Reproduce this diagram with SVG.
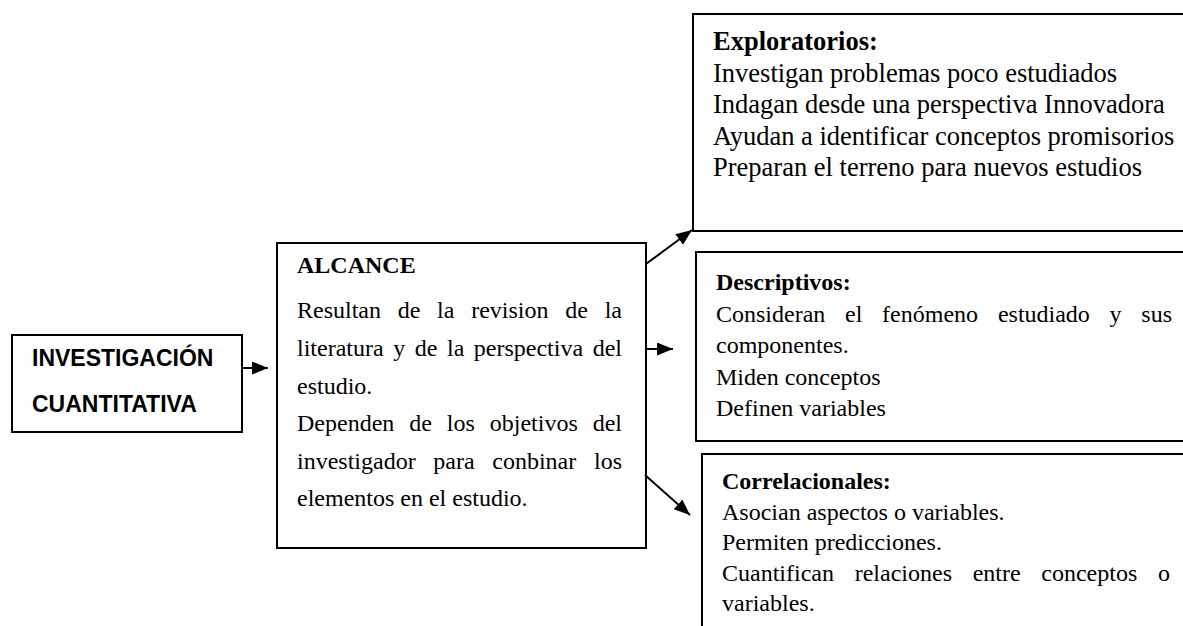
<svg xmlns="http://www.w3.org/2000/svg" width="1183" height="626" viewBox="0 0 1183 626">
<style>
.box{fill:#fff;stroke:#000;stroke-width:2}
.t{font-family:"Liberation Serif","Times New Roman",serif;font-size:24px;fill:#000}
.e{font-size:26.5px}
.b{font-weight:bold}
.s{font-family:"Liberation Sans",Arial,sans-serif;font-size:23px;font-weight:bold;fill:#000}
.c{stroke:#000;stroke-width:2;fill:none}
</style>
<defs>
<marker id="ah" markerUnits="userSpaceOnUse" markerWidth="18" markerHeight="16" refX="16" refY="6.5" orient="auto">
<path d="M0,0 L16,6.5 L0,13 z" fill="#000"/>
</marker>
</defs>
<rect width="1183" height="626" fill="#fff"/>
<g id="investigacion">
<rect class="box" x="12" y="335" width="230" height="97"/>
<text class="s" x="32" y="366">INVESTIGACIÓN</text>
<text class="s" x="32" y="412">CUANTITATIVA</text>
</g>
<g id="alcance">
<rect class="box" x="277" y="243" width="369" height="305"/>
<text class="t b" x="297" y="273">ALCANCE</text>
<text class="t" y="318"><tspan x="297">Resultan</tspan><tspan x="397.7">de</tspan><tspan x="437.1">la</tspan><tspan x="471.2">revision</tspan><tspan x="565.3">de</tspan><tspan x="604.7">la</tspan></text>
<text class="t" y="356"><tspan x="297">literatura</tspan><tspan x="393.2">y</tspan><tspan x="414.7">de</tspan><tspan x="447">la</tspan><tspan x="473.8">perspectiva</tspan><tspan x="592.7">del</tspan></text>
<text class="t" x="297" y="394">estudio.</text>
<text class="t" y="431"><tspan x="297">Dependen</tspan><tspan x="409.2">de</tspan><tspan x="446.8">los</tspan><tspan x="489.8">objetivos</tspan><tspan x="592.7">del</tspan></text>
<text class="t" y="469"><tspan x="297">investigador</tspan><tspan x="433.3">para</tspan><tspan x="492.3">conbinar</tspan><tspan x="594">los</tspan></text>
<text class="t" x="297" y="506">elementos en el estudio.</text>
</g>
<g id="exploratorios">
<rect class="box" x="693" y="14" width="500" height="217"/>
<text class="t e b" x="713" y="50">Exploratorios:</text>
<text class="t e" x="713" y="81.5">Investigan problemas poco estudiados</text>
<text class="t e" x="713" y="113">Indagan desde una perspectiva Innovadora</text>
<text class="t e" x="713" y="144.5">Ayudan a identificar conceptos promisorios</text>
<text class="t e" x="713" y="176">Preparan el terreno para nuevos estudios</text>
</g>
<g id="descriptivos">
<rect class="box" x="696" y="252" width="500" height="189"/>
<text class="t b" x="716" y="290">Descriptivos:</text>
<text class="t" y="321.5"><tspan x="716">Consideran</tspan><tspan x="845.1">el</tspan><tspan x="882.1">fenómeno</tspan><tspan x="997.9">estudiado</tspan><tspan x="1109.6">y</tspan><tspan x="1141.3">sus</tspan></text>
<text class="t" x="716" y="353">componentes.</text>
<text class="t" x="716" y="384.5">Miden conceptos</text>
<text class="t" x="716" y="416">Definen variables</text>
</g>
<g id="correlacionales">
<rect class="box" x="702" y="454" width="500" height="200"/>
<text class="t b" x="722" y="489">Correlacionales:</text>
<text class="t" x="722" y="520">Asocian aspectos o variables.</text>
<text class="t" x="722" y="550">Permiten predicciones.</text>
<text class="t" y="581"><tspan x="722">Cuantifican</tspan><tspan x="854.7">relaciones</tspan><tspan x="972.7">entre</tspan><tspan x="1041.3">conceptos</tspan><tspan x="1158">o</tspan></text>
<text class="t" x="722" y="611">variables.</text>
</g>
<g id="connectors">
<line class="c" x1="242" y1="368" x2="268" y2="368" marker-end="url(#ah)"/>
<line class="c" x1="646" y1="264" x2="692" y2="230" marker-end="url(#ah)"/>
<line class="c" x1="646" y1="349" x2="673" y2="349" marker-end="url(#ah)"/>
<line class="c" x1="645" y1="475" x2="690" y2="515" marker-end="url(#ah)"/>
</g>
</svg>
